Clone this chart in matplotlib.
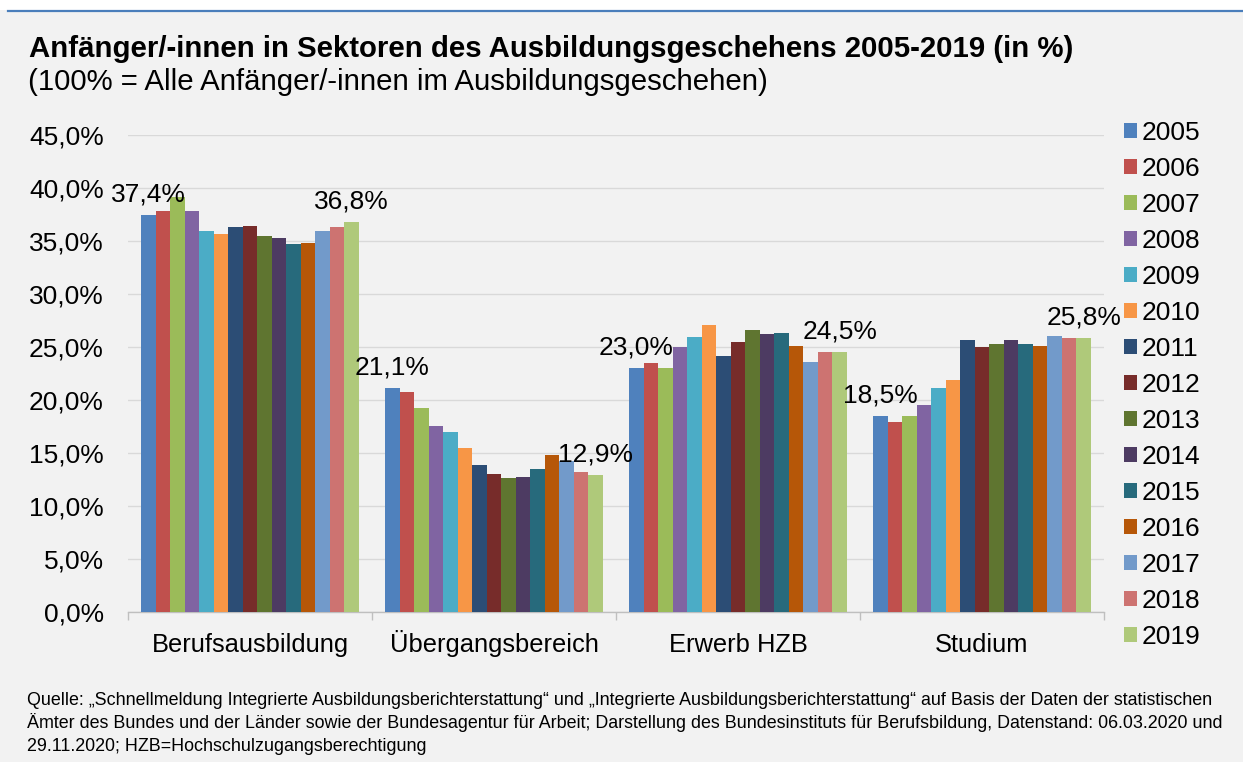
import matplotlib
matplotlib.use("Agg")
import matplotlib.pyplot as plt
from matplotlib.patches import Patch
from matplotlib.lines import Line2D
import numpy as np

plt.rcParams['font.family'] = ['Liberation Sans', 'DejaVu Sans']

categories = ["Berufsausbildung", "Übergangsbereich", "Erwerb HZB", "Studium"]
years = ["2005", "2006", "2007", "2008", "2009", "2010", "2011", "2012",
         "2013", "2014", "2015", "2016", "2017", "2018", "2019"]

berufsausbildung = [37.4, 37.8, 39.1, 37.8, 35.9, 35.6, 36.3, 36.4, 35.4, 35.3, 34.7, 34.8, 35.9, 36.3, 36.8]
uebergangsbereich = [21.1, 20.7, 19.2, 17.5, 17.0, 15.4, 13.8, 13.0, 12.6, 12.7, 13.5, 14.8, 14.2, 13.2, 12.9]
erwerb_hzb = [23.0, 23.5, 23.0, 25.0, 25.9, 27.0, 24.1, 25.4, 26.6, 26.2, 26.3, 25.1, 23.6, 24.5, 24.5]
studium = [18.5, 17.9, 18.5, 19.5, 21.1, 21.9, 25.6, 25.0, 25.3, 25.6, 25.3, 25.1, 26.0, 25.8, 25.8]

colors = ["#4F81BD", "#C0504D", "#9BBB59", "#8064A2", "#4BACC6", "#F79646",
          "#2C4D75", "#772C2A", "#5F7530", "#4D3B62", "#276A7C", "#B65708",
          "#729ACA", "#CD7371", "#AFC97A"]

yticks = [0, 5, 10, 15, 20, 25, 30, 35, 40, 45]
ytick_labels = ["0,0%", "5,0%", "10,0%", "15,0%", "20,0%", "25,0%", "30,0%", "35,0%", "40,0%", "45,0%"]

data = np.array([berufsausbildung, uebergangsbereich, erwerb_hzb, studium])  # shape (4, 15)

W, H = 1243, 762
fig = plt.figure(figsize=(W / 100, H / 100), dpi=100)
fig.patch.set_facecolor("#F2F2F2")

# white strip and blue rule at the top
fig.patches.append(matplotlib.patches.Rectangle((0, 1 - 9.5 / H), 1, 9.5 / H, transform=fig.transFigure,
                                                facecolor="white", edgecolor="none", zorder=0))
fig.add_artist(Line2D([8 / W, 1], [1 - 10.5 / H, 1 - 10.5 / H], transform=fig.transFigure,
                      color="#4A7EBB", lw=1.6))

ax = fig.add_axes([128 / W, 1 - 611.7 / H, (1104 - 128) / W, (611.7 - 134.7) / H])
ax.set_facecolor("#F2F2F2")

n = len(years)
group_w = 0.893
bw = group_w / n
x = np.arange(len(categories))
for i, yr in enumerate(years):
    xpos = x - group_w / 2 + bw * (i + 0.5)
    ax.bar(xpos, data[:, i], width=bw, color=colors[i], edgecolor="none", zorder=3, label=yr)
    if i == 0 or i == n - 1:
        for xp, v in zip(xpos, data[:, i]):
            ax.annotate(f"{v:.1f}%".replace(".", ","), (xp, v), xytext=(0, 9.6), textcoords="offset points",
                        ha="center", va="baseline", fontsize=19, color="black", zorder=5)

ax.set_xlim(-0.5, len(categories) - 0.5)
ax.set_ylim(0, 45)
ax.set_yticks(yticks)
ax.set_yticklabels(ytick_labels, fontsize=19)
ax.yaxis.grid(True, color="#D9D9D9", lw=1.0, zorder=0)
ax.tick_params(axis="y", length=0, pad=17.3)

ax.set_xticks(x)
ax.set_xticklabels(categories, fontsize=18.4)
for lbl in ax.get_xticklabels():
    lbl.set_va("baseline")
ax.set_xticks(np.arange(-0.5, len(categories)), minor=True)
ax.tick_params(axis="x", which="major", length=0, pad=28.8)
ax.tick_params(axis="x", which="minor", length=6, color="#BFBFBF", width=1)

for s in ["top", "right", "left"]:
    ax.spines[s].set_visible(False)
ax.spines["bottom"].set_color("#BFBFBF")
ax.spines["bottom"].set_linewidth(1.0)

handles = [Patch(facecolor=c, edgecolor="none") for c in colors]
fig.legend(handles, years, loc="upper left", bbox_to_anchor=(1124 / W, 1 - 121 / H),
           frameon=False, fontsize=19, handlelength=0.49, handleheight=0.49,
           handletextpad=0.19, labelspacing=0.455, borderpad=0, borderaxespad=0)

fig.text(29 / W, 1 - 57 / H, "Anfänger/-innen in Sektoren des Ausbildungsgeschehens 2005-2019 (in %)",
         fontsize=21.15, fontweight="bold", va="baseline", ha="left")
fig.text(28 / W, 1 - 90 / H, "(100% = Alle Anfänger/-innen im Ausbildungsgeschehen)",
         fontsize=21.15, va="baseline", ha="left")

footer = ["Quelle: „Schnellmeldung Integrierte Ausbildungsberichterstattung“ und „Integrierte Ausbildungsberichterstattung“ auf Basis der Daten der statistischen",
          "Ämter des Bundes und der Länder sowie der Bundesagentur für Arbeit; Darstellung des Bundesinstituts für Berufsbildung, Datenstand: 06.03.2020 und",
          "29.11.2020; HZB=Hochschulzugangsberechtigung"]
for k, line in enumerate(footer):
    fig.text(27 / W, 1 - (705 + 23 * k) / H, line, fontsize=12.9, va="baseline", ha="left")

fig.savefig("out.png", dpi=100, facecolor=fig.get_facecolor())
